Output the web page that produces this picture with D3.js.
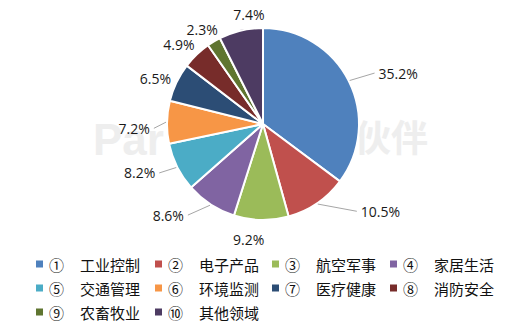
<!DOCTYPE html>
<html><head><meta charset="utf-8">
<script src="https://cdn.jsdelivr.net/npm/d3@7"></script>
<style>html,body{margin:0;padding:0;background:#fff;}svg{display:block;}</style>
</head><body>
<svg id="chart" width="526" height="336"></svg>
<script>
// ---- data ----
const categories = ["工业控制","电子产品","航空军事","家居生活","交通管理","环境监测","医疗健康","消防安全","农畜牧业","其他领域"];
const markers = ["①","②","③","④","⑤","⑥","⑦","⑧","⑨","⑩"];
const values = [35.2, 10.5, 9.2, 8.6, 8.2, 7.2, 6.5, 4.9, 2.3, 7.4];

// ---- layout / style ----
const colors = ["#4F81BD","#C0504D","#9BBB59","#8064A2","#4BACC6","#F79646","#2C4D75","#772C2A","#5F7530","#4D3B62"];
const labelGap  = [28, 31, 13, 20, 20, 17, 4, 4, 3, 6];   // radial gap of label (px)
const labelTurn = [6, -19, 6, 13, 5, -3, -3, -3, -2, 6];  // angular shift of label (deg)

const svg = d3.select("#chart");
const cx = 263, cy = 124, r = 96;

// watermark
svg.append("text").attr("x", 93).attr("y", 155).attr("font-family", "Arial, 'Liberation Sans', sans-serif")
  .attr("font-weight", "bold").attr("font-size", 44).attr("fill", "#eeeeee").text("Par");
svg.append("text").attr("x", 354).attr("y", 152).attr("font-family", "'Noto Sans CJK SC', sans-serif")
  .attr("font-weight", "bold").attr("font-size", 37).attr("fill", "#eeeeee").text("伙伴");

const pie = d3.pie().sort(null).value(d => d)(values);
const arc = d3.arc().innerRadius(0).outerRadius(r);
const g = svg.append("g").attr("transform", `translate(${cx},${cy})`);
g.selectAll("path").data(pie).join("path")
  .attr("d", arc).attr("fill", (d, i) => colors[i])
  .attr("stroke", "#fff").attr("stroke-width", 2).attr("stroke-linejoin", "round");

// labels
const lab = svg.append("g");
pie.forEach((d, i) => {
  const mid = (d.startAngle + d.endAngle) / 2;
  const th = mid + labelTurn[i] * Math.PI / 180;
  const t = lab.append("text")
    .attr("font-family", "'Open Sans', sans-serif").attr("font-size", 14)
    .attr("fill", "#1a1a1a").attr("text-anchor", "middle").attr("dominant-baseline", "central")
    .text(values[i].toFixed(1) + "%");
  const w = t.node().getComputedTextLength(), h = 12;
  const rho = r + labelGap[i] + Math.abs(Math.sin(th)) * w / 2 + Math.abs(Math.cos(th)) * h / 2;
  const lx = cx + rho * Math.sin(th), ly = cy - rho * Math.cos(th);
  t.attr("x", lx).attr("y", ly);
  if (labelGap[i] >= 15) {
    const sx = cx + (r + 1) * Math.sin(mid), sy = cy - (r + 1) * Math.cos(mid);
    const ex = Math.sin(th) > 0 ? lx - w / 2 - 4 : lx + w / 2 + 4;
    lab.append("line").attr("x1", sx).attr("y1", sy).attr("x2", ex).attr("y2", ly)
      .attr("stroke", "#a6a6a6").attr("stroke-width", 1);
  }
});

// legend
const colX = [36, 155, 272, 390], rowY = [264, 288, 312];
const leg = svg.append("g");
categories.forEach((c, i) => {
  const x0 = colX[i % 4], y0 = rowY[Math.floor(i / 4)];
  leg.append("rect").attr("x", x0).attr("y", y0 - 3.5).attr("width", 7).attr("height", 7).attr("fill", colors[i]);
  leg.append("text").attr("x", x0 + 13).attr("y", y0).attr("dominant-baseline", "central")
    .attr("font-family", "'Noto Sans CJK SC', sans-serif").attr("font-size", 15).attr("fill", "#111").text(markers[i]);
  leg.append("text").attr("x", x0 + 44).attr("y", y0).attr("dominant-baseline", "central")
    .attr("font-family", "'Noto Sans CJK SC', sans-serif").attr("font-size", 15).attr("fill", "#111").text(c);
});
</script>
</body></html>
